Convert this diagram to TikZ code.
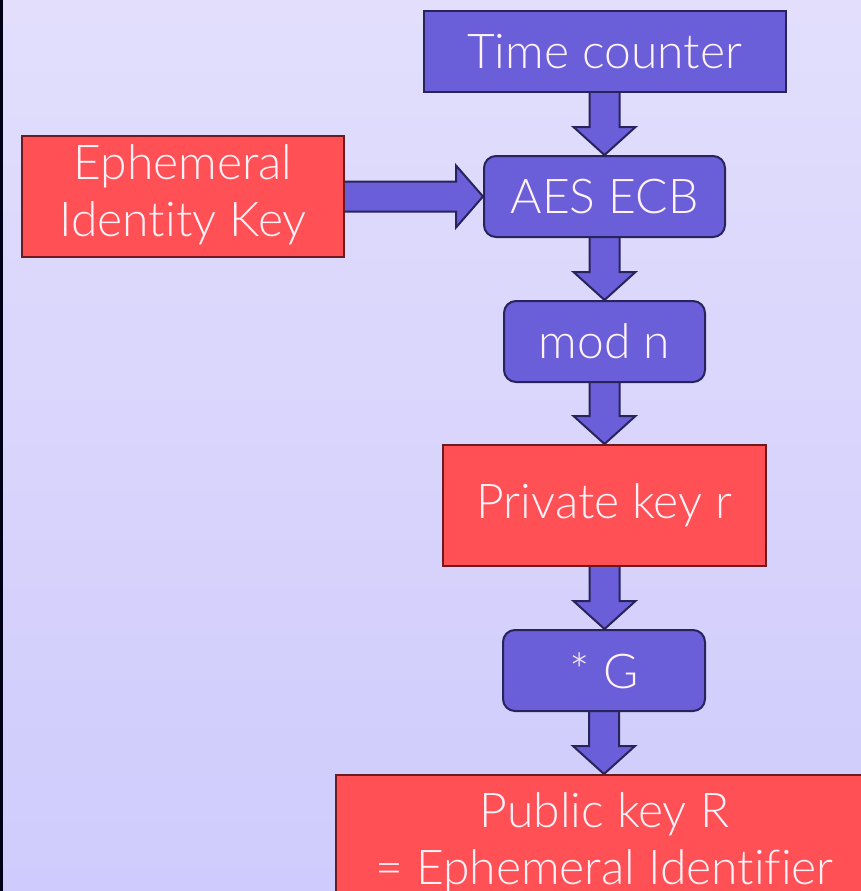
\documentclass[tikz,border=0pt]{standalone}
\usepackage{fontspec}
\setmainfont{Lato}[UprightFont=* Light, Ligatures=NoCommon]
\usetikzlibrary{calc}
\pgfdeclarelayer{bg}
\pgfdeclarelayer{arrowlayer}
\pgfsetlayers{bg,arrowlayer,main}
\definecolor{bgtop}{RGB}{226,222,252}
\definecolor{bgbot}{RGB}{207,203,252}
\definecolor{bluefill}{RGB}{106,95,217}
\definecolor{blueline}{RGB}{40,35,90}
\definecolor{redfill}{RGB}{255,80,85}
\definecolor{redline}{RGB}{110,25,30}
\definecolor{txt}{RGB}{255,242,248}
\tikzset{
  box/.style={draw, line width=2pt, inner sep=0pt, align=center, text=txt,
    font=\fontsize{48}{57}\selectfont},
  bluebox/.style={box, fill=bluefill, draw=blueline},
  roundbox/.style={bluebox, rounded corners=12pt},
  redbox/.style={box, fill=redfill, draw=redline},
  blockarrow/.style={fill=bluefill, draw=blueline, line width=2pt, line join=miter},
}
\newcommand\downarrowblock[2]{%
  \draw[blockarrow] let \p1=(#1.south), \p2=(#2.north) in
    (\x1-15pt,\y1) -- (\x1-15pt,\y2+28pt) -- (\x1-31pt,\y2+28pt) -- (\x1,\y2)
    -- (\x1+31pt,\y2+28pt) -- (\x1+15pt,\y2+28pt) -- (\x1+15pt,\y1);}
\begin{document}
\begin{tikzpicture}[x=1pt,y=-1pt]
\useasboundingbox (0,0) rectangle (861,891);
\begin{pgfonlayer}{bg}
\shade[top color=bgtop, bottom color=bgbot] (0,0) rectangle (861,891);
\fill[black!90!blue] (0,0) rectangle (3,891);
\end{pgfonlayer}
\clip (0,0) rectangle (861,891);
\node[bluebox, minimum width=362pt, minimum height=81pt] (tc) at (604.5,51.5) {\raisebox{-3pt}{Time counter}};
\node[roundbox, minimum width=241pt, minimum height=81pt] (aes) at (604.5,196.5) {AES ECB};
\node[redbox, minimum width=322pt, minimum height=121pt] (eik) at (183,196.5) {\raisebox{-8pt}{\begin{tabular}{@{}c@{}}Ephemeral\\Identity Key\end{tabular}}};
\node[roundbox, minimum width=201pt, minimum height=81pt] (mod) at (604.5,341.5) {mod n};
\node[redbox, minimum width=323pt, minimum height=121pt] (prk) at (604.5,505.5) {\raisebox{-3pt}{Private key r}};
\node[roundbox, minimum width=202pt, minimum height=81pt] (g) at (604,670.5) {* G};
\node[redbox, minimum width=537pt, minimum height=140pt] (pub) at (604.5,845) {\raisebox{4pt}{\begin{tabular}{@{}c@{}}Public key R\\= Ephemeral Identifier\end{tabular}}};
\begin{pgfonlayer}{arrowlayer}
\downarrowblock{tc}{aes}
\downarrowblock{aes}{mod}
\downarrowblock{mod}{prk}
\downarrowblock{prk}{g}
\downarrowblock{g}{pub}
\draw[blockarrow] let \p1=(eik.east), \p2=(aes.west) in
  (\x1,\y1+15pt) -- (\x2-27pt,\y1+15pt) -- (\x2-27pt,\y1+31pt) -- (\x2,\y1)
  -- (\x2-27pt,\y1-31pt) -- (\x2-27pt,\y1-15pt) -- (\x1,\y1-15pt);
\end{pgfonlayer}
\end{tikzpicture}
\end{document}
